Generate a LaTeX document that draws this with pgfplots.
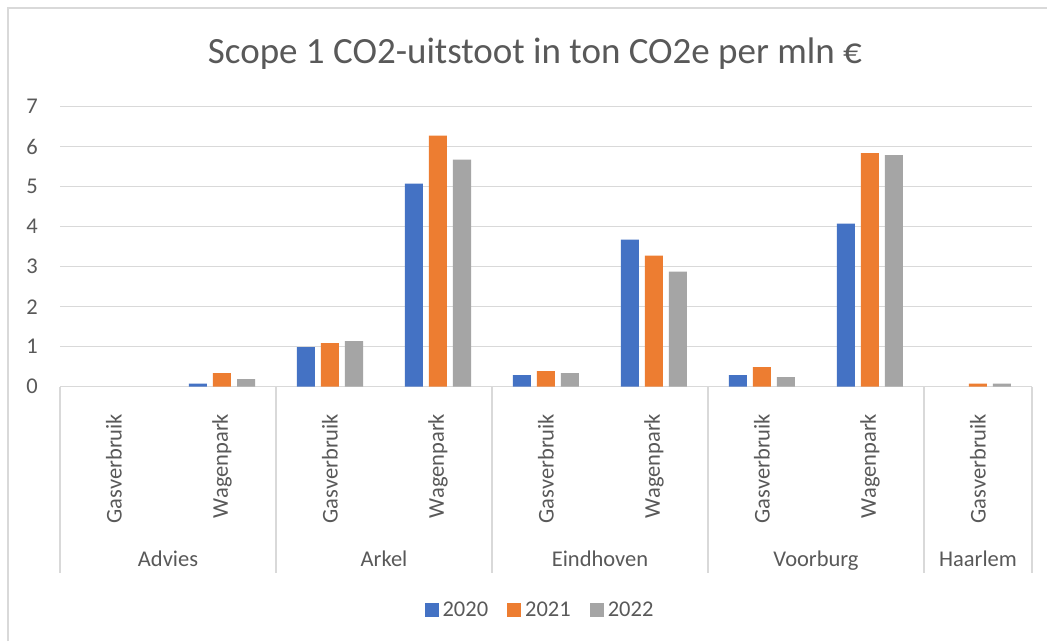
\documentclass[border=0pt]{standalone}
\usepackage{pgfplots}
\pgfplotsset{compat=1.18}
\usepackage{fontspec}
\setmainfont{Carlito}
\definecolor{cA}{HTML}{4472C4}
\definecolor{cB}{HTML}{ED7D31}
\definecolor{cC}{HTML}{A5A5A5}
\definecolor{gridc}{HTML}{D9D9D9}
\definecolor{txt}{HTML}{595959}
\pgfplotsset{sqleg/.style={legend image code/.code={\fill[##1] (0pt,-7pt) rectangle (14pt,7pt);}}}
\begin{document}
\begin{tikzpicture}[x=1pt,y=1pt]
\useasboundingbox (0,0) rectangle (1047,641);
\fill[white] (0,0) rectangle (1047,641);
\draw[gridc, line width=1.3pt] (8,0) -- (8,633) -- (1047,633);
\node[anchor=base, text=txt, font=\fontsize{37}{44}\selectfont] at (535,577.7) {Scope 1 CO2-uitstoot in ton CO2e per mln €};
\begin{axis}[
  at={(60pt,254.3pt)}, anchor=south west,
  scale only axis, width=972pt, height=280pt,
  xmin=-0.5, xmax=8.5, ymin=0, ymax=7,
  ybar=6pt, bar width=18pt,
  axis line style={draw=none},
  major tick length=0pt,
  ytick={0,1,2,3,4,5,6,7},
  ymajorgrids, grid style={gridc, line width=1.3pt},
  xtick={0,1,2,3,4,5,6,7,8},
  xticklabels={Gasverbruik,Wagenpark,Gasverbruik,Wagenpark,Gasverbruik,Wagenpark,Gasverbruik,Wagenpark,Gasverbruik},
  tick label style={text=txt, font=\fontsize{22.5}{26}\selectfont},
  xticklabel style={inner sep=0pt, yshift=-27pt, rotate=90, anchor=east},
  yticklabel style={inner sep=0pt, xshift=-22pt, anchor=east},
  /pgf/number format/assume math mode=true,
  clip=false,
  legend style={at={(rel axis cs:0.4933,-0.7975)}, anchor=center, draw=none, fill=none,
    legend columns=-1, font=\fontsize{22.5}{26}\selectfont, text=txt,
    /tikz/every odd column/.append style={column sep=3pt},
    /tikz/every even column/.append style={column sep=18pt},
    nodes={inner sep=1pt}},
]
\addplot[fill=cA, draw=none, sqleg] coordinates {(1,0.08) (2,0.99) (3,5.08) (4,0.29) (5,3.68) (6,0.29) (7,4.08)};
\addplot[fill=cB, draw=none, sqleg] coordinates {(1,0.34) (2,1.09) (3,6.28) (4,0.39) (5,3.28) (6,0.49) (7,5.84) (8,0.08)};
\addplot[fill=cC, draw=none, sqleg] coordinates {(1,0.19) (2,1.14) (3,5.68) (4,0.34) (5,2.88) (6,0.24) (7,5.79) (8,0.08)};
\legend{2020,2021,2022}
\draw[gridc, line width=1.3pt] (axis cs:-0.5,0) -- ++(0pt,-186.3pt);
\draw[gridc, line width=1.3pt] (axis cs:1.5,0) -- ++(0pt,-186.3pt);
\draw[gridc, line width=1.3pt] (axis cs:3.5,0) -- ++(0pt,-186.3pt);
\draw[gridc, line width=1.3pt] (axis cs:5.5,0) -- ++(0pt,-186.3pt);
\draw[gridc, line width=1.3pt] (axis cs:7.5,0) -- ++(0pt,-186.3pt);
\draw[gridc, line width=1.3pt] (axis cs:8.5,0) -- ++(0pt,-186.3pt);
\node[anchor=base, text=txt, font=\fontsize{22.5}{26}\selectfont, yshift=-179.3pt] at (axis cs:0.5,0) {Advies};
\node[anchor=base, text=txt, font=\fontsize{22.5}{26}\selectfont, yshift=-179.3pt] at (axis cs:2.5,0) {Arkel};
\node[anchor=base, text=txt, font=\fontsize{22.5}{26}\selectfont, yshift=-179.3pt] at (axis cs:4.5,0) {Eindhoven};
\node[anchor=base, text=txt, font=\fontsize{22.5}{26}\selectfont, yshift=-179.3pt] at (axis cs:6.5,0) {Voorburg};
\node[anchor=base, text=txt, font=\fontsize{22.5}{26}\selectfont, yshift=-179.3pt] at (axis cs:8,0) {Haarlem};
\end{axis}
\end{tikzpicture}
\end{document}
